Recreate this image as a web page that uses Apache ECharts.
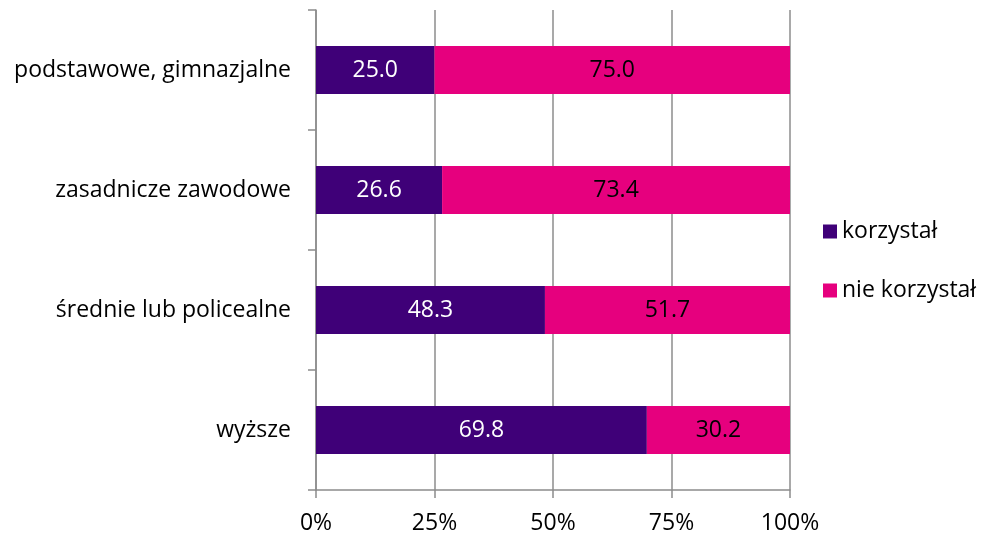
<!DOCTYPE html>
<html><head><meta charset="utf-8">
<script src="https://cdn.jsdelivr.net/npm/echarts@6/dist/echarts.min.js"></script>
<style>html,body{margin:0;padding:0;background:#fff}#c{width:982px;height:540px}</style>
</head><body><div id="c"></div>
<script>
const categories = ['podstawowe, gimnazjalne', 'zasadnicze zawodowe', 'średnie lub policealne', 'wyższe'];
const korzystal = [25.0, 26.6, 48.3, 69.8];
const nieKorzystal = [75.0, 73.4, 51.7, 30.2];
const seriesNames = ['korzystał', 'nie korzystał'];
const xTicks = [0, 25, 50, 75, 100];

const FONT = '"Open Sans", "Noto Sans", sans-serif';
const FS = 23;
const chart = echarts.init(document.getElementById('c'), null, {renderer: 'canvas'});
chart.setOption({
  animation: false,
  textStyle: {fontFamily: FONT},
  grid: {left: 316, right: 192, top: 10, bottom: 50, containLabel: false},
  legend: {
    orient: 'vertical', left: 818, top: 215, itemGap: 36,
    itemWidth: 14, itemHeight: 14, icon: 'rect',
    itemStyle: {borderWidth: 0},
    textStyle: {fontSize: FS, color: '#000', fontFamily: FONT, padding: [0, 0, 0, 0]},
    data: seriesNames
  },
  xAxis: {
    type: 'value', min: 0, max: 100, interval: 25,
    axisLine: {show: true, lineStyle: {color: '#8c8c8c', width: 1.5}},
    axisTick: {show: true, length: 8, lineStyle: {color: '#8c8c8c', width: 1.5}},
    splitLine: {show: true, lineStyle: {color: '#8c8c8c', width: 1.5}},
    axisLabel: {formatter: v => xTicks.includes(v) ? v + '%' : '', fontSize: FS, color: '#000', margin: 22, fontFamily: FONT}
  },
  yAxis: {
    type: 'category', data: categories, inverse: true,
    axisLine: {show: true, lineStyle: {color: '#8c8c8c', width: 1.5}},
    axisTick: {show: true, length: 8, lineStyle: {color: '#8c8c8c', width: 1.5}},
    axisLabel: {fontSize: FS, color: '#000', margin: 25, fontFamily: FONT}
  },
  series: [
    {name: seriesNames[0], type: 'bar', stack: 's', data: korzystal, barWidth: 48,
     itemStyle: {color: '#3F0078'},
     label: {show: true, position: 'inside', color: '#fff', fontSize: FS, fontFamily: FONT, formatter: p => p.value.toFixed(1)}},
    {name: seriesNames[1], type: 'bar', stack: 's', data: nieKorzystal, barWidth: 48,
     itemStyle: {color: '#E6007E'},
     label: {show: true, position: 'inside', color: '#000', fontSize: FS, fontFamily: FONT, formatter: p => p.value.toFixed(1)}}
  ]
});
</script></body></html>
